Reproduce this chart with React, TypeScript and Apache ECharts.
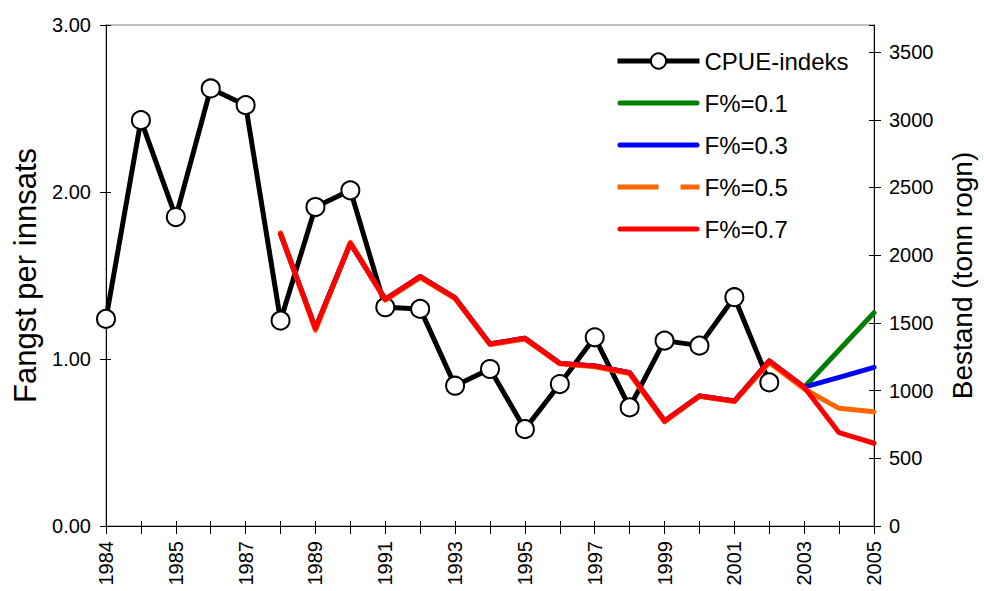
import React, { useEffect, useRef } from "react";
import * as echarts from "echarts";

const years: string[] = [
  "1984", "1984", "1985", "1986", "1987", "1988", "1989", "1990", "1991", "1992", "1993",
  "1994", "1995", "1996", "1997", "1998", "1999", "2000", "2001", "2002", "2003", "2004", "2005",
];

const cpue: (number | null)[] = [
  1.24, 2.43, 1.85, 2.62, 2.52, 1.23, 1.91, 2.01, 1.31, 1.30, 0.84,
  0.94, 0.58, 0.85, 1.13, 0.71, 1.11, 1.08, 1.37, 0.86, null, null, null,
];

const f01: (number | null)[] = [
  null, null, null, null, null, 2157, 1460, 2088, 1674, 1842, 1684,
  1344, 1386, 1201, 1182, 1132, 775, 960, 923, 1219, 1025, 1300, 1575,
];
const f03: (number | null)[] = [
  null, null, null, null, null, 2157, 1460, 2088, 1674, 1842, 1684,
  1344, 1386, 1201, 1182, 1132, 775, 960, 923, 1219, 1025, 1098, 1172,
];
const f05: (number | null)[] = [
  null, null, null, null, null, 2165, 1445, 2095, 1668, 1835, 1680,
  1340, 1380, 1198, 1176, 1125, 770, 958, 920, 1205, 1012, 869, 844,
];
const f07: (number | null)[] = [
  null, null, null, null, null, 2157, 1460, 2088, 1674, 1842, 1684,
  1344, 1386, 1201, 1182, 1132, 775, 960, 923, 1219, 1025, 689, 611,
];

const seriesNames = ["CPUE-indeks", "F%=0.1", "F%=0.3", "F%=0.5", "F%=0.7"];
const seriesColors = ["#000000", "#008000", "#0000FF", "#FF6600", "#FF0000"];

const FONT = "Liberation Sans, Arial, sans-serif";
const SOLID_ICON =
  "path://M2.5,0H79.5A2.5,2.5,0,0,1,79.5,5H2.5A2.5,2.5,0,0,1,2.5,0Z";
const DASH_ICON = "path://M0,0H41V5H0ZM63,0H82V5H63Z";

export default function App() {
  const ref = useRef<HTMLDivElement>(null);

  useEffect(() => {
    if (!ref.current) return;
    const chart = echarts.init(ref.current, null, { renderer: "svg" });

    const fSeries = [f01, f03, f05, f07].map((d, i) => ({
      name: seriesNames[i + 1],
      type: "line",
      yAxisIndex: 1,
      data: d,
      symbol: "none",
      showSymbol: false,
      connectNulls: false,
      lineStyle: { color: seriesColors[i + 1], width: 5, cap: "round", join: "round" },
      itemStyle: { color: seriesColors[i + 1], borderWidth: 0 },
      z: 3 + i,
    }));

    const option: any = {
      animation: false,
      backgroundColor: "#ffffff",
      textStyle: { fontFamily: FONT, color: "#000" },
      grid: {
        left: 106,
        right: 108,
        top: 25,
        bottom: 65,
        show: true,
        borderColor: "#808080",
        borderWidth: 1,
        backgroundColor: "transparent",
      },
      legend: {
        orient: "vertical",
        left: 610,
        top: 44,
        itemWidth: 82,
        itemHeight: 19,
        itemGap: 18,
        textStyle: { fontSize: 24, color: "#000", fontFamily: FONT },
        data: [
          {
            name: seriesNames[0],
            lineStyle: { width: 5, color: "#000" },
            itemStyle: { borderWidth: 2, borderColor: "#000", color: "#fff" },
          },
          { name: seriesNames[1], icon: SOLID_ICON, itemStyle: { borderWidth: 0 } },
          { name: seriesNames[2], icon: SOLID_ICON, itemStyle: { borderWidth: 0 } },
          { name: seriesNames[3], icon: DASH_ICON, itemStyle: { borderWidth: 0 } },
          { name: seriesNames[4], icon: SOLID_ICON, itemStyle: { borderWidth: 0 } },
        ],
      },
      xAxis: [
        {
          type: "category",
          data: years,
          boundaryGap: false,
          position: "bottom",
          axisLine: { show: true, lineStyle: { color: "#000", width: 1 } },
          axisTick: { show: true, interval: 0, length: 8, lineStyle: { color: "#000" } },
          axisLabel: {
            interval: 1,
            rotate: 90,
            margin: 15,
            fontSize: 20,
            color: "#000",
            fontFamily: FONT,
          },
          splitLine: { show: false },
        },
        {
          type: "category",
          data: years,
          boundaryGap: false,
          position: "bottom",
          axisLine: { show: false },
          axisTick: { show: true, inside: true, interval: 0, length: 5, lineStyle: { color: "#000" } },
          axisLabel: { show: false },
          splitLine: { show: false },
        },
      ],
      yAxis: [
        {
          type: "value",
          position: "left",
          min: 0,
          max: 3,
          interval: 1,
          name: "Fangst per innsats",
          nameLocation: "middle",
          nameRotate: 90,
          nameGap: 60,
          nameTextStyle: { fontSize: 31, color: "#000", fontFamily: FONT },
          axisLine: { show: true, lineStyle: { color: "#000", width: 1 } },
          axisTick: { show: true, length: 6, lineStyle: { color: "#000" } },
          axisLabel: {
            margin: 15,
            fontSize: 20,
            color: "#000",
            fontFamily: FONT,
            formatter: (v: number) => v.toFixed(2),
          },
          splitLine: { show: false },
        },
        {
          type: "value",
          position: "right",
          min: 0,
          max: 3700,
          interval: 500,
          name: "Bestand (tonn rogn)",
          nameLocation: "middle",
          nameRotate: 90,
          nameGap: 74,
          nameTextStyle: { fontSize: 28, color: "#000", fontFamily: FONT },
          axisLine: { show: true, lineStyle: { color: "#000", width: 1 } },
          axisTick: { show: true, length: 7, lineStyle: { color: "#000" } },
          axisLabel: {
            margin: 15,
            fontSize: 20,
            color: "#000",
            fontFamily: FONT,
            showMaxLabel: false,
            formatter: (v: number) => (v % 500 === 0 ? String(v) : ""),
          },
          splitLine: { show: false },
        },
        {
          type: "value",
          position: "left",
          min: 0,
          max: 3,
          interval: 1,
          axisLine: { show: false },
          axisTick: { show: true, inside: true, length: 5, lineStyle: { color: "#000" } },
          axisLabel: { show: false },
          splitLine: { show: false },
        },
        {
          type: "value",
          position: "right",
          min: 0,
          max: 3700,
          interval: 500,
          axisLine: { show: false },
          axisTick: { show: true, inside: true, length: 5, lineStyle: { color: "#000" } },
          axisLabel: { show: false },
          splitLine: { show: false },
        },
      ],
      series: [
        {
          name: seriesNames[0],
          type: "line",
          yAxisIndex: 0,
          data: cpue,
          symbol: "circle",
          symbolSize: 18,
          showAllSymbol: true,
          lineStyle: { color: "#000", width: 5, join: "round" },
          itemStyle: { color: "#ffffff", borderColor: "#000", borderWidth: 2 },
          z: 2,
        },
        ...fSeries,
      ],
    };

    chart.setOption(option);
    return () => chart.dispose();
  }, []);

  return (
    <div
      ref={ref}
      style={{ position: "fixed", left: 0, top: 0, width: 984, height: 591, background: "#fff" }}
    />
  );
}
